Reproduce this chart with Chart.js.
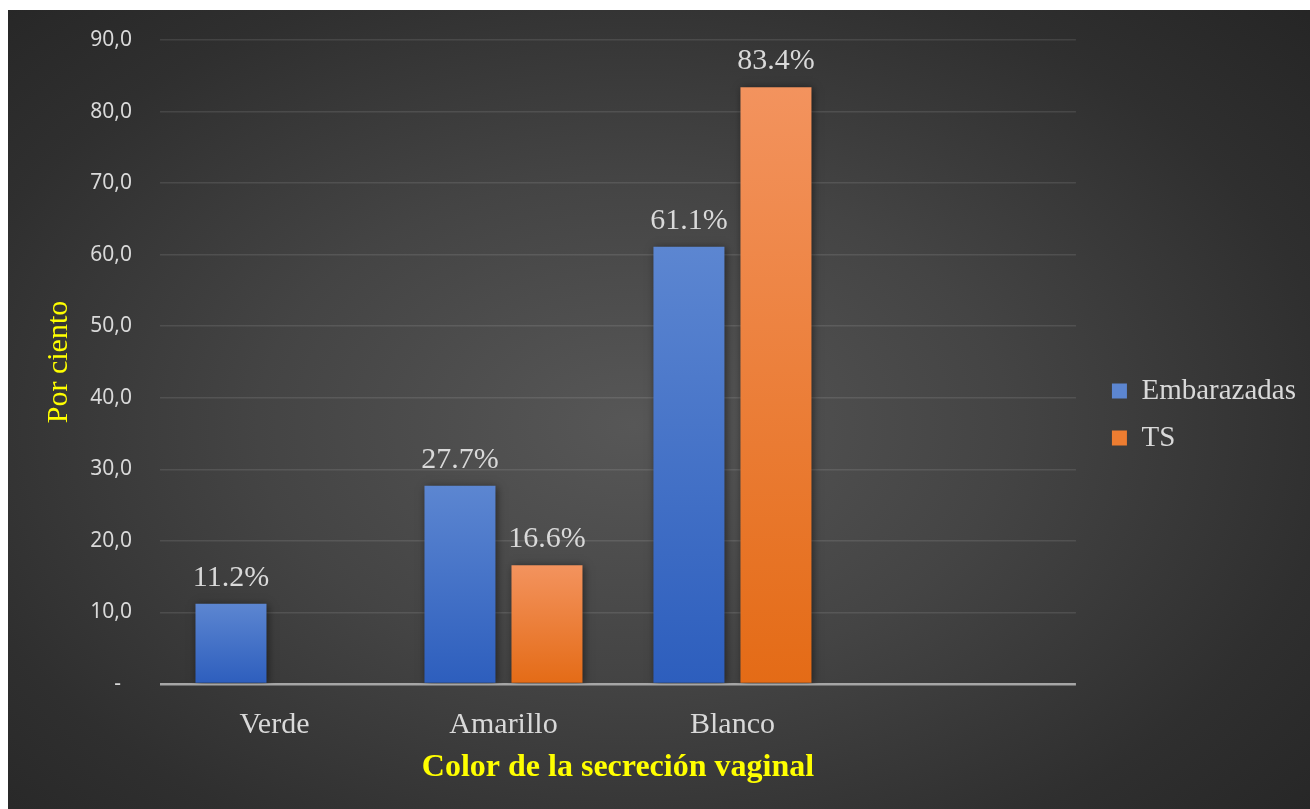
<!DOCTYPE html>
<html lang="es">
<head>
<meta charset="utf-8">
<title>Color de la secreción vaginal</title>
<script src="https://cdn.jsdelivr.net/npm/chart.js@4.4.0/dist/chart.umd.min.js"></script>
<style>
  html, body { margin: 0; padding: 0; background: #ffffff; }
  #chartBox {
    position: absolute;
    left: 8px;
    top: 10px;
    width: 1302px;
    height: 799px;
    background: radial-gradient(ellipse 72% 78% at 48% 52%, #575757 0%, #444444 40%, #2f2f2f 75%, #252525 100%);
  }
</style>
</head>
<body>
<div id="chartBox"><canvas id="secrecionChart"></canvas></div>
<script>
// Datos del grafico
const categories = ["Verde", "Amarillo", "Blanco", ""];
const embarazadas = [11.2, 27.7, 61.1, null];
const ts = [null, 16.6, 83.4, null];
const yAxisMin = 0;
const yAxisMax = 90;
const yAxisStep = 10;

const serif = "'Liberation Serif', 'Times New Roman', serif";
const sans = "'Noto Sans', 'Open Sans', sans-serif";
const labelGray = "#d9d9d9";

// Gradient per bar, light at the top and darker at the base
function barFill(topColor, bottomColor, flatColor) {
  return function (context) {
    const chart = context.chart;
    if (!chart.chartArea || context.type !== "data" || context.raw == null) {
      return flatColor;
    }
    const yScale = chart.scales.y;
    const yTop = yScale.getPixelForValue(context.raw);
    const yBase = yScale.getPixelForValue(0);
    const grad = chart.ctx.createLinearGradient(0, yTop, 0, yBase);
    grad.addColorStop(0, topColor);
    grad.addColorStop(1, bottomColor);
    return grad;
  };
}

// Soft shadow under the bars + value labels on top
const barDecor = {
  id: "barDecor",
  beforeDatasetsDraw(chart) {
    const ctx = chart.ctx;
    ctx.save();
    ctx.shadowColor = "rgba(0, 0, 0, 0.5)";
    ctx.shadowBlur = 8;
    ctx.shadowOffsetX = 2;
    ctx.shadowOffsetY = 1;
  },
  afterDatasetsDraw(chart) {
    const ctx = chart.ctx;
    ctx.restore();
    ctx.save();
    ctx.font = "30px " + serif;
    ctx.fillStyle = labelGray;
    ctx.textAlign = "center";
    ctx.textBaseline = "alphabetic";
    chart.data.datasets.forEach(function (ds, i) {
      const meta = chart.getDatasetMeta(i);
      meta.data.forEach(function (bar, j) {
        const v = ds.data[j];
        if (v == null) return;
        ctx.fillText(v.toFixed(1) + "%", bar.x, bar.y - 18);
      });
    });
    ctx.restore();
  },
};

document.addEventListener("DOMContentLoaded", function () {
  var ctx = document.getElementById("secrecionChart").getContext("2d");

  var myChart = new Chart(ctx, {
    type: "bar",
    data: {
      labels: categories,
      datasets: [
        {
          label: "Embarazadas",
          data: embarazadas,
          backgroundColor: barFill("#5c86d1", "#2d5ebd", "#4472c4"),
          borderWidth: 0,
          barPercentage: 0.816,
          categoryPercentage: 0.76,
        },
        {
          label: "TS",
          data: ts,
          backgroundColor: barFill("#f3935e", "#e46b16", "#ed7d31"),
          borderWidth: 0,
          barPercentage: 0.816,
          categoryPercentage: 0.76,
        },
      ],
    },
    options: {
      responsive: true,
      maintainAspectRatio: false,
      animation: false,
      layout: {
        padding: { top: 30, bottom: 20, left: 0, right: 4 },
      },
      scales: {
        x: {
          grid: { display: false },
          border: { display: false },
          ticks: {
            color: labelGray,
            font: { family: serif, size: 30 },
            padding: 15,
            maxRotation: 0,
            minRotation: 0,
            autoSkip: false,
          },
          title: {
            display: true,
            text: "Color de la secreción vaginal",
            color: "#ffff00",
            font: { family: serif, size: 32, weight: "bold" },
            padding: { top: 0, bottom: 2 },
          },
          afterFit: function (scale) {
            scale.height = 105;
          },
        },
        y: {
          min: yAxisMin,
          max: yAxisMax,
          border: { display: false },
          grid: {
            // invisible tick marks keep the labels off the plot
            drawTicks: true,
            tickLength: 28,
            tickColor: "rgba(0, 0, 0, 0)",
            color: function (c) {
              return c.tick.value === 0 ? "#a6a6a6" : "rgba(255, 255, 255, 0.1)";
            },
            lineWidth: function (c) {
              return c.tick.value === 0 ? 2.5 : 1.5;
            },
          },
          ticks: {
            stepSize: yAxisStep,
            color: labelGray,
            font: { family: sans, size: 21 },
            padding: 0,
            // 10,0 style labels, zero shown as a dash
            callback: function (value) {
              if (value === 0) return "-  ";
              return value.toFixed(1).replace(".", ",");
            },
          },
          title: {
            display: true,
            text: "Por ciento",
            color: "#ffff00",
            font: { family: serif, size: 30 },
            padding: { top: 33, bottom: 0 },
          },
          afterFit: function (scale) {
            scale.width = 152;
          },
        },
        // empty strip between plot and legend
        gap: {
          type: "linear",
          position: "right",
          min: 0,
          max: 1,
          grid: { display: false },
          border: { display: false },
          ticks: { display: false },
          afterFit: function (scale) {
            scale.width = 18;
          },
        },
      },
      plugins: {
        legend: {
          position: "right",
          labels: {
            color: labelGray,
            font: { family: serif, size: 29 },
            boxWidth: 15,
            boxHeight: 15,
            padding: 18,
          },
        },
        tooltip: { enabled: false },
      },
    },
    plugins: [barDecor],
  });
});
</script>
</body>
</html>
